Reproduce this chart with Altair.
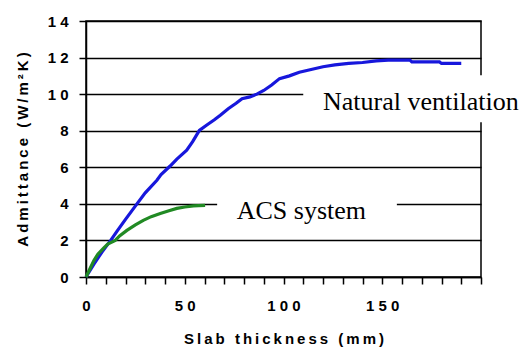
import altair as alt
import pandas as pd

# Natural ventilation curve (blue)
nv_x = [0, 4, 8, 12.5, 16, 20, 25.8, 30, 35.9, 38, 42.6, 46, 51, 54, 57.4, 61, 65, 68, 72, 76, 79, 83,
        86.5, 90, 94, 98, 103, 108, 114, 120, 126, 133, 140, 147, 153, 160, 164, 165, 179, 180, 190]
nv_y = [0, 0.7, 1.35, 2.0, 2.55, 3.15, 4.0, 4.6, 5.29, 5.6, 6.07, 6.45, 6.93, 7.4, 8.02, 8.3, 8.6, 8.85, 9.2, 9.5, 9.75, 9.85,
        10.0, 10.2, 10.5, 10.85, 11.0, 11.2, 11.35, 11.5, 11.6, 11.68, 11.73, 11.82, 11.86, 11.86, 11.86, 11.76, 11.76, 11.68, 11.68]

# ACS system curve (green)
acs_x = [0, 2, 4, 6, 8.8, 11, 14.8, 17, 20.7, 25, 29, 33, 37.6, 42, 46, 50, 54.4, 57, 60.3]
acs_y = [0, 0.45, 0.9, 1.25, 1.57, 1.8, 2.0, 2.25, 2.55, 2.85, 3.1, 3.3, 3.47, 3.62, 3.75, 3.83, 3.89, 3.9, 3.92]

# Annotations
labels = ["Natural ventilation", "ACS system"]
label_x = [120, 76.3]
label_y = [9.12, 3.19]
box_x1 = [110, 66.4]
box_x2 = [222, 157.4]
box_y1 = [8.46, 2.66]
box_y2 = [11.03, 5.0]

x_ticks = list(range(0, 201, 10))
y_ticks = list(range(0, 15, 2))

nv = pd.DataFrame({"x": nv_x, "y": nv_y})
acs = pd.DataFrame({"x": acs_x, "y": acs_y})
ann = pd.DataFrame({"label": labels, "lx": label_x, "ly": label_y,
                    "x1": box_x1, "x2": box_x2, "y1": box_y1, "y2": box_y2})

def spaced(s, sep="\u2009"):
    return sep.join(list(s))

AX_FONT = "Liberation Sans"

xscale = alt.Scale(domain=[0, 200], nice=False, zero=True)
yscale = alt.Scale(domain=[0, 14], nice=False)

common = dict(
    titleFont=AX_FONT, titleFontSize=15, titleFontWeight="bold", titleColor="black",
    labelFont=AX_FONT, labelFontSize=15, labelFontWeight="bold", labelColor="black",
)

xaxis = alt.Axis(
    values=x_ticks,
    labelExpr="datum.value % 50 == 0 && datum.value < 200 ? join(split(datum.label, ''), ' ') : ''",
    title=spaced("Slab thickness (mm)"),
    grid=False, titlePadding=18, labelPadding=14, **common,
)
yaxis = alt.Axis(
    values=y_ticks,
    labelExpr="join(split(datum.label, ''), ' ')",
    title=spaced("Admittance (W/m²K)"),
    grid=True, titlePadding=17, labelPadding=11, **common,
)

boxes = alt.Chart(ann).mark_rect(color="white").encode(
    x=alt.X("x1:Q", scale=xscale, axis=xaxis),
    x2="x2:Q",
    y=alt.Y("y1:Q", scale=yscale, axis=yaxis),
    y2="y2:Q",
)

nv_line = alt.Chart(nv).mark_line(color="#1717dc", strokeWidth=3.2).encode(
    x=alt.X("x:Q", scale=xscale, axis=xaxis),
    y=alt.Y("y:Q", scale=yscale, axis=yaxis),
)
acs_line = alt.Chart(acs).mark_line(color="#218a24", strokeWidth=3.2).encode(
    x=alt.X("x:Q", scale=xscale, axis=xaxis),
    y=alt.Y("y:Q", scale=yscale, axis=yaxis),
)

texts = alt.Chart(ann).mark_text(
    font="Liberation Serif", fontSize=26, align="left", baseline="alphabetic", color="black"
).encode(
    x=alt.X("lx:Q", scale=xscale, axis=xaxis),
    y=alt.Y("ly:Q", scale=yscale, axis=yaxis),
    text="label:N",
)

chart = alt.layer(boxes, nv_line, acs_line, texts).properties(
    width=395, height=256,
    autosize=alt.AutoSizeParams(type="none"),
    padding={"left": 86, "top": 21, "right": 42, "bottom": 70},
    background="white",
).configure_view(stroke="black", strokeWidth=1.5).configure_axis(
    tickSize=7, tickColor="black", tickWidth=1.5,
    domainColor="black", domainWidth=1.5,
    gridColor="black", gridWidth=1.5, gridOpacity=1,
    labelOverlap=False, labelFlush=False, labelBound=False,
)

chart.save("out.html", embed_options={"renderer": "svg", "actions": False})
